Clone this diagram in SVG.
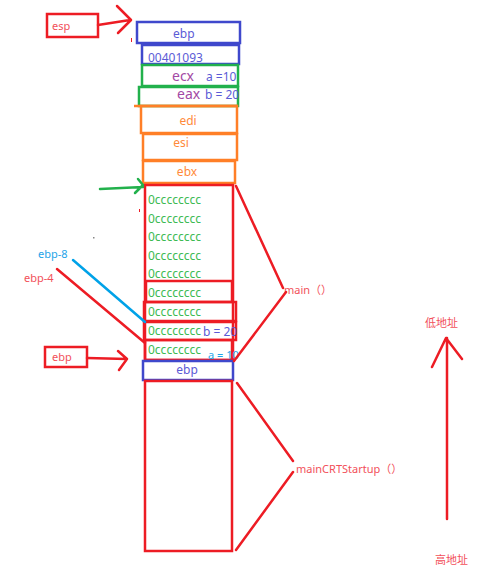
<svg xmlns="http://www.w3.org/2000/svg" width="500" height="574" viewBox="0 0 500 574">
<style>
text{font-family:"Noto Sans","Open Sans","Noto Sans CJK SC",sans-serif}
.r{fill:none;stroke:#ed1c24;stroke-width:2.5}
.b{fill:none;stroke:#3f48cc;stroke-width:2.5}
.g{fill:none;stroke:#22b14c;stroke-width:2.5}
.o{fill:none;stroke:#ff7f27;stroke-width:2.5}
.rl{fill:none;stroke:#ed1c24;stroke-width:2.5;stroke-linecap:round;stroke-linejoin:round}
.tb{fill:#5b5bd6;font-size:12px}
.tp{fill:#a349a4;font-size:14px}
.to{fill:#ff8a3a;font-size:12px}
.tg{fill:#3cba52;font-size:12px}
.tr{fill:#f2505a;font-size:11px}
.tc{fill:#1ea4e8;font-size:11px}
</style>
<rect width="500" height="574" fill="#fff"/>
<g id="esp">
<rect class="r" x="47" y="14" width="51" height="23"/>
<text class="tr" x="52" y="30" font-size="12">esp</text>
</g>
<g id="frame-top">
<rect class="b" x="137" y="22" width="103" height="21"/>
<text class="tb" x="173" y="38" font-size="13">ebp</text>
<rect class="b" x="142" y="45" width="97" height="19"/>
<text class="tb" x="148" y="62">00401093</text>
<rect class="g" x="142" y="65" width="96" height="21"/>
<text class="tp" x="172" y="81">ecx</text>
<text class="tb" x="206" y="81" font-size="8.5">a =10</text>
<rect class="g" x="139" y="87" width="99" height="19"/>
<text class="tp" x="177" y="99">eax</text>
<text class="tb" x="205" y="99" font-size="8.5">b = 20</text>
</g>
<g id="saved-regs">
<line class="o" x1="134" y1="106" x2="238" y2="106"/>
<rect class="o" x="141" y="106" width="96" height="27"/>
<text class="to" x="188" y="125" text-anchor="middle">edi</text>
<rect class="o" x="143" y="134" width="94" height="26"/>
<text class="to" x="181" y="147" text-anchor="middle">esi</text>
<rect class="o" x="143" y="161" width="92" height="22"/>
<text class="to" x="187" y="176" text-anchor="middle">ebx</text>
</g>
<g id="main-frame">
<rect class="r" x="145" y="185" width="88" height="175"/>
<text class="tg" x="148" y="204">0cccccccc</text>
<text class="tg" x="148" y="223">0cccccccc</text>
<text class="tg" x="148" y="241">0cccccccc</text>
<text class="tg" x="148" y="260">0cccccccc</text>
<text class="tg" x="148" y="278">0cccccccc</text>
<rect class="r" x="146" y="281" width="86" height="21"/>
<text class="tg" x="148" y="297">0cccccccc</text>
<rect class="r" x="144" y="302" width="92" height="19" stroke-width="3.5"/>
<text class="tg" x="148" y="316">0cccccccc</text>
<rect class="r" x="144" y="322" width="92" height="18" stroke-width="3"/>
<text class="tg" x="148" y="335">0cccccccc</text>
<text class="tb" x="203" y="336" font-size="11">b = 20</text>
<rect class="r" x="145" y="340" width="87" height="20"/>
<text class="tg" x="148" y="354">0cccccccc</text>
<text class="tc" x="208" y="359" font-size="12">a = 10</text>
</g>
<g id="ebp-bottom">
<rect class="b" x="143" y="361" width="90" height="19"/>
<text class="tb" x="187" y="374" text-anchor="middle" font-size="10">ebp</text>
</g>
<g id="crt-frame">
<rect class="r" x="145" y="381" width="87" height="170"/>
</g>
<g id="ebp-label">
<rect class="r" x="45" y="347" width="42" height="20"/>
<text class="tr" x="52" y="361" font-size="10.5">ebp</text>
</g>
<g id="labels">
<text class="tc" x="38" y="258" font-size="12">ebp-8</text>
<text class="tr" x="24" y="282" font-size="12">ebp-4</text>
<text class="tr" x="284" y="294">main（）</text>
<text class="tr" x="296" y="473" font-size="12">mainCRTStartup（）</text>
<text class="tr" x="425" y="327" font-size="10.5">低地址</text>
<text class="tr" x="435" y="564" font-size="11">高地址</text>
</g>
<g id="connectors">
<path class="rl" d="M98 25 L130 20 M117 6 L131 20 L118 33"/>
<path d="M100 189 L143 187 M138 179 L143 185 L135 193" fill="none" stroke="#22b14c" stroke-width="2.5" stroke-linecap="round" stroke-linejoin="round"/>
<path class="rl" d="M87 358 L127 359 M118 351 L127 359 L119 370"/>
<line x1="73" y1="260" x2="145" y2="322" stroke="#00a2e8" stroke-width="2.5" stroke-linecap="round"/>
<line class="rl" x1="57" y1="269" x2="145" y2="343"/>
<path class="rl" d="M236 186 L283 288 M286 292 L234 361"/>
<path class="rl" d="M237 383 L293 461 M293 472 L236 550"/>
<path class="rl" d="M447 519 L447 338 M432 367 L446 338 L462 359"/>
</g>
<g id="marks">
<rect x="131" y="38" width="1" height="4" fill="#ed1c24"/>
<rect x="139" y="209" width="1" height="3" fill="#ed1c24"/>
<rect x="93" y="237" width="1.5" height="1.5" fill="#888"/>
</g>
</svg>
